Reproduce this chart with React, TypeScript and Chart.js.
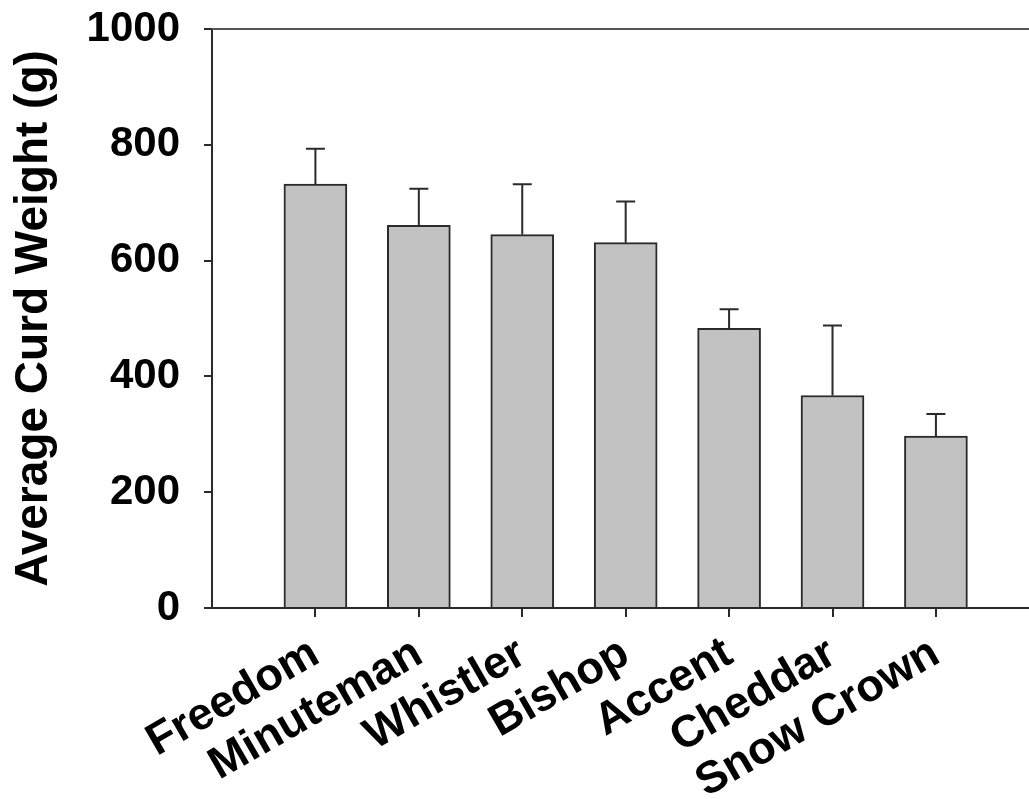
import React, { useEffect, useRef } from "react";
import { Chart, registerables } from "chart.js";

Chart.register(...registerables);

const categories = ["Freedom", "Minuteman", "Whistler", "Bishop", "Accent", "Cheddar", "Snow Crown"];
const means = [732, 661, 645, 631, 483, 367, 297];
const errors = [61, 63, 87, 71, 33, 121, 38];
const yTicks = [0, 200, 400, 600, 800, 1000];
const yTitle = "Average Curd Weight (g)";

const FONT = "'Liberation Sans', Arial, Helvetica, sans-serif";
const AXIS = "#2a2a2a";

const errorBarPlugin = {
  id: "errorBars",
  afterDatasetsDraw(chart: any) {
    const meta = chart.getDatasetMeta(0);
    const yScale = chart.scales.y;
    const ctx = chart.ctx;
    ctx.save();
    ctx.strokeStyle = AXIS;
    ctx.lineWidth = 2;
    meta.data.forEach((bar: any, i: number) => {
      const x = bar.x;
      const yTop = yScale.getPixelForValue(means[i] + errors[i]);
      const yBar = yScale.getPixelForValue(means[i]);
      ctx.beginPath();
      ctx.moveTo(x, yBar);
      ctx.lineTo(x, yTop);
      ctx.moveTo(x - 9.5, yTop);
      ctx.lineTo(x + 9.5, yTop);
      ctx.stroke();
    });
    ctx.restore();
  },
};

const frameTopPlugin = {
  id: "frameTop",
  afterDraw(chart: any) {
    const { ctx, chartArea } = chart;
    ctx.save();
    ctx.strokeStyle = "#555";
    ctx.lineWidth = 2;
    ctx.beginPath();
    ctx.moveTo(chartArea.left, chartArea.top);
    ctx.lineTo(chartArea.right, chartArea.top);
    ctx.stroke();
    ctx.restore();
  },
};

export default function App() {
  const ref = useRef<HTMLCanvasElement>(null);
  useEffect(() => {
    if (!ref.current) return;
    const chart = new Chart(ref.current, {
      type: "bar",
      data: {
        datasets: [
          {
            data: means.map((m, i) => ({ x: i + 1, y: m })),
            backgroundColor: "#c2c2c2",
            borderColor: AXIS,
            borderWidth: 2,
            barThickness: 63,
          },
        ],
      },
      options: {
        responsive: false,
        animation: false,
        devicePixelRatio: 1,
        layout: { padding: { top: 29, right: 0, left: 0, bottom: 0 } },
        plugins: {
          legend: { display: false },
          tooltip: { enabled: false },
        },
        scales: {
          x: {
            type: "linear",
            min: 0,
            max: 7.9,
            offset: false,
            afterBuildTicks: (axis: any) => {
              axis.ticks = categories.map((_, i) => ({ value: i + 1 }));
            },
            afterFit: (scale: any) => {
              scale.height = 191;
              scale.paddingLeft = 0;
              scale.paddingRight = 0;
            },
            grid: {
              offset: false,
              drawOnChartArea: false,
              drawTicks: true,
              tickLength: 9,
              color: AXIS,
              lineWidth: 2,
            },
            border: { color: AXIS, width: 2 },
            ticks: {
              autoSkip: false,
              minRotation: 30,
              maxRotation: 30,
              padding: 10,
              color: "#000",
              font: { family: FONT, size: 45, weight: "bold" },
              callback: (v: any) => categories[Number(v) - 1] ?? "",
            },
          },
          y: {
            min: 0,
            max: 1000,
            afterBuildTicks: (axis: any) => {
              axis.ticks = yTicks.map((v) => ({ value: v }));
            },
            afterFit: (scale: any) => {
              scale.width = 212;
              scale.paddingTop = 0;
              scale.paddingBottom = 0;
            },
            grid: {
              drawOnChartArea: false,
              drawTicks: true,
              tickLength: 8,
              color: AXIS,
              lineWidth: 2,
            },
            border: { color: AXIS, width: 2 },
            ticks: {
              padding: 24,
              color: "#000",
              font: { family: FONT, size: 42, weight: "bold" },
              callback: (v: any) => String(v),
            },
            title: {
              display: true,
              text: yTitle,
              color: "#000",
              padding: { top: 7, bottom: 0 },
              font: { family: FONT, size: 46, weight: "bold" },
            },
          },
        },
      },
      plugins: [errorBarPlugin, frameTopPlugin],
    });
    return () => chart.destroy();
  }, []);
  return (
    <div style={{ position: "fixed", left: 0, top: 0, width: 1029, height: 799, background: "#fff" }}>
      <canvas ref={ref} width={1029} height={799} />
    </div>
  );
}
